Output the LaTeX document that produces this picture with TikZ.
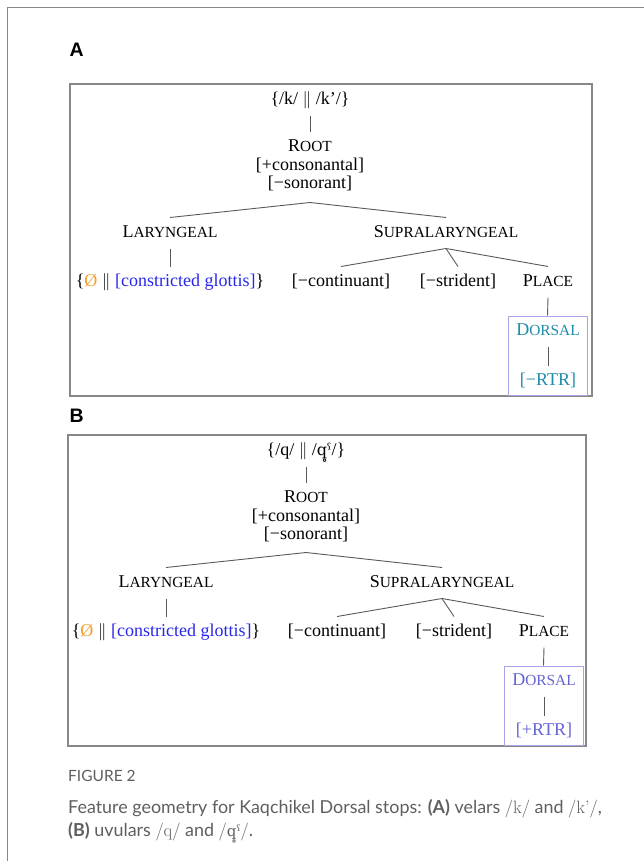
\documentclass[tikz,border=0pt]{standalone}
\usepackage{fontspec}
\setmainfont{Liberation Serif}
\newfontfamily\capfont{Lato}
\newfontfamily\labfont{Liberation Sans}
\newfontfamily\ipafont{DejaVu Serif}
\newfontfamily\lmfont{Latin Modern Roman}

\definecolor{orng}{RGB}{242,160,50}
\definecolor{cgblue}{RGB}{40,40,235}
\definecolor{tealc}{RGB}{30,140,170}
\definecolor{purpc}{RGB}{100,100,210}
\definecolor{boxpurp}{RGB}{165,165,232}
\definecolor{framegray}{RGB}{135,135,135}
\definecolor{linegray}{RGB}{90,90,90}
\definecolor{capgray}{RGB}{95,95,95}

\newcommand\fsc[2]{#1{\fontsize{15.4pt}{15.4pt}\selectfont #2}}

\tikzset{
  feat/.style={font=\fontsize{18pt}{18pt}\selectfont, inner sep=0pt,
    text height=12.5pt, text depth=4.5pt, outer ysep=7pt, anchor=base},
  branch/.style={draw=linegray, line width=0.9pt},
  panelbox/.style={draw=framegray, line width=1.1pt},
  dbox/.style={draw=boxpurp, line width=1pt, minimum width=79pt, minimum height=79pt, inner sep=0pt},
  panellabel/.style={font=\labfont\bfseries\fontsize{19.5pt}{19.5pt}\selectfont, anchor=base west, inner sep=0pt},
  captext/.style={font=\capfont\fontsize{17.9pt}{17.9pt}\selectfont, text=capgray, anchor=base west, inner sep=0pt}
}

% #1 prefix, #2 dx, #3 dy, #4 top text, #5 dorsal colour, #6 RTR value
\newcommand\ftree[6]{%
\begin{scope}[shift={(#2,#3)}]
  \node[feat] (#1top) at (310,105) {#4};
  \node[feat] (#1root) at (310,152) {\fsc{R}{OOT}};
  \node[feat] (#1cons) at (310,171) {[+consonantal]};
  \node[feat, outer ysep=9pt] (#1son) at (310,189) {[−sonorant]};
  \node[feat] (#1lar) at (170,237) {\fsc{L}{ARYNGEAL}};
  \node[feat] (#1sup) at (446,237) {\fsc{S}{UPRALARYNGEAL}};
  \node[feat] (#1cg) at (170,286) {\{\textcolor{orng}{Ø} $\|$ \textcolor{cgblue}{[constricted glottis]}\}};
  \node[feat] (#1cont) at (341,286) {[−continuant]};
  \node[feat] (#1strid) at (458,286) {[−strident]};
  \node[feat] (#1place) at (548,286) {\fsc{P}{LACE}};
  \node[dbox] (#1dbox) at (547.5,355.5) {};
  \node[feat, text=#5] (#1dors) at (548,335) {\fsc{D}{ORSAL}};
  \node[feat, text=#5] (#1rtr) at (548,385) {[#6RTR]};
  \draw[branch] (#1top) -- (#1root);
  \draw[branch] (#1son.south) -- (#1lar.north);
  \draw[branch] (#1son.south) -- (#1sup.north);
  \draw[branch] (#1lar) -- (#1cg);
  \draw[branch] (#1sup.south) -- (#1cont.north);
  \draw[branch] (#1sup.south) -- (#1strid.north);
  \draw[branch] (#1sup.south) -- (#1place.north);
  \draw[branch] (#1place.south) -- (#1dbox.north);
  \draw[branch] (#1dors) -- (#1rtr);
\end{scope}}

\begin{document}
\begin{tikzpicture}[x=1pt,y=-1pt]
  \useasboundingbox (0,0) rectangle (644,861);
  \fill[white] (0,0) rectangle (644,861);
  \draw[framegray, line width=1.3pt] (7.5,861) -- (7.5,7.5) -- (644,7.5);

  \node[panellabel] (labA) at (69.5,57) {A};
  \draw[panelbox] (70,84) rectangle (592,396);
  \ftree{a}{0}{0}{\{/k/ $\|$ /k’/\}}{tealc}{−}

  \node[panellabel] (labB) at (69.5,422) {B};
  \draw[panelbox] (68,435) rectangle (586,746);
  \ftree{b}{-4}{350}{\{/q/ $\|$ /{\ipafont\fontsize{16pt}{16pt}\selectfont q̥ˤ}/\}}{purpc}{+}

  \node[captext, font=\capfont\fontsize{15.5pt}{15.5pt}\selectfont] (figno) at (68,781) {FIGURE 2};
  \node[captext] (cap1) at (68,813) {Feature geometry for Kaqchikel Dorsal stops: \textbf{(A)} velars {\lmfont /k/} and {\lmfont /k’/},};
  \node[captext] (cap2) at (68,836) {\textbf{(B)} uvulars {\lmfont /q/} and {\lmfont /{\ipafont\fontsize{15pt}{15pt}\selectfont q̥ˤ}/}.};
\end{tikzpicture}
\end{document}
